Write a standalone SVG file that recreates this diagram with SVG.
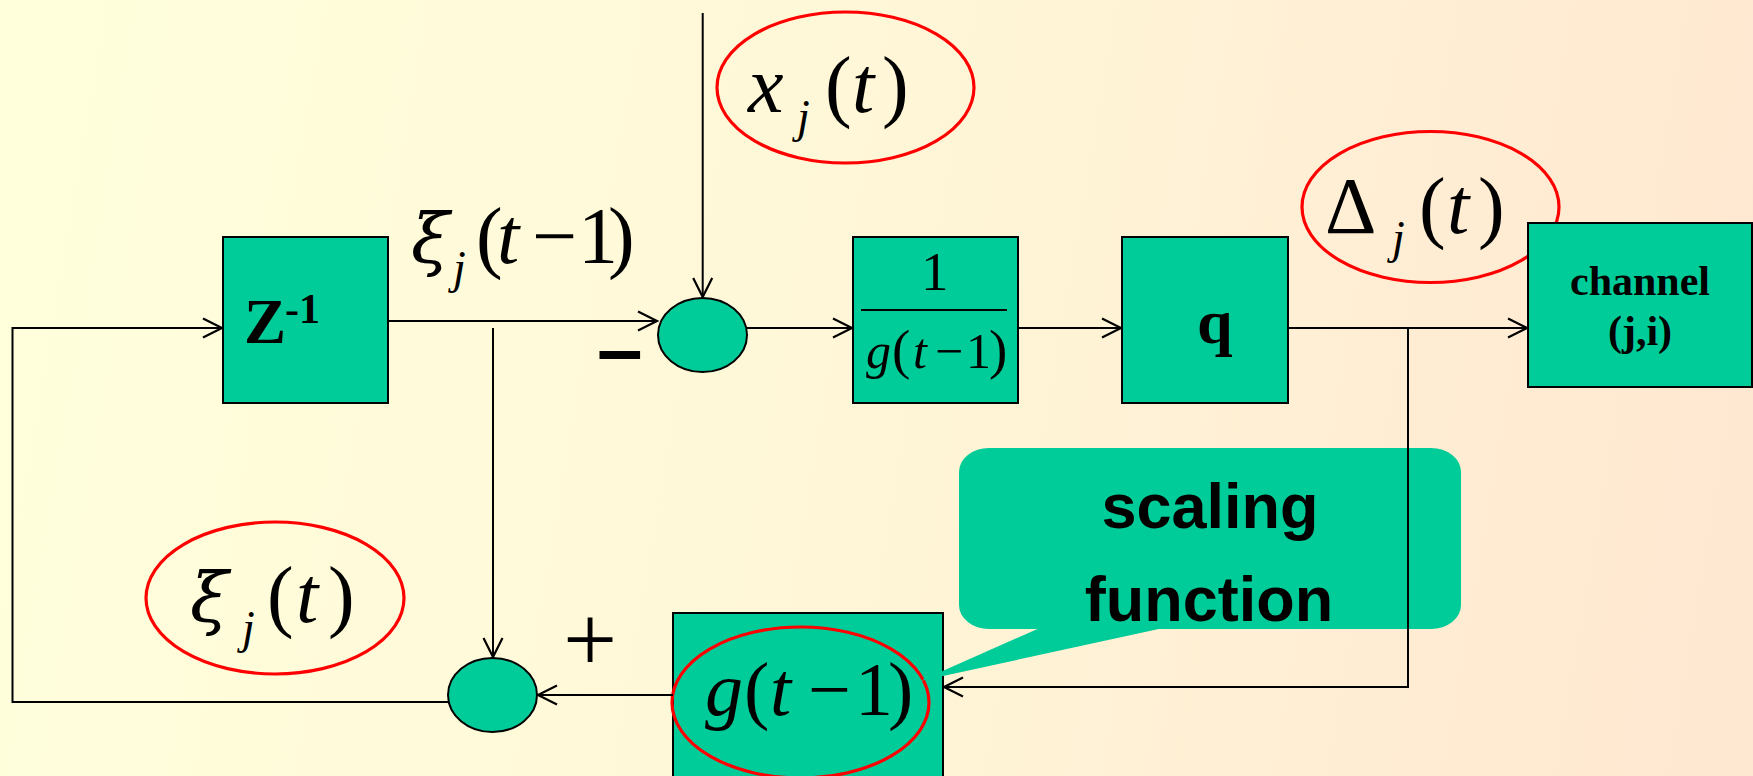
<svg xmlns="http://www.w3.org/2000/svg" width="1753" height="776" viewBox="0 0 1753 776">
<defs>
<linearGradient id="bg" x1="0" y1="0" x2="1753" y2="300" gradientUnits="userSpaceOnUse">
<stop offset="0" stop-color="#FFFFDC"/>
<stop offset="0.45" stop-color="#FFF8D8"/>
<stop offset="1" stop-color="#FFE8D1"/>
</linearGradient>
<marker id="arr" markerUnits="userSpaceOnUse" markerWidth="30" markerHeight="30" viewBox="-25 -15 30 30" refX="0" refY="0" orient="auto">
<path d="M -19 -9.5 L 0 0 L -19 9.5" fill="none" stroke="#000" stroke-width="2.2"/>
</marker>
</defs>
<style>
.box{fill:#00CC99;stroke:#000;stroke-width:2}
.sum{fill:#00CC99;stroke:#000;stroke-width:2}
.hl{fill:none;stroke:#FF0000;stroke-width:3.2}
.ln{fill:none;stroke:#000;stroke-width:2}
.m{font-family:"Liberation Serif","Times New Roman",serif;fill:#000}
.it{font-style:italic}
.xi{font-family:"DejaVu Serif",serif;font-style:italic}
.b{font-family:"Liberation Serif","Times New Roman",serif;font-weight:bold;fill:#000}
.s{font-family:"Liberation Sans",Arial,sans-serif;font-weight:bold;fill:#000}
</style>
<rect x="0" y="0" width="1753" height="776" fill="url(#bg)"/>

<g id="label-xi-t1">
<text class="m" font-size="80"><tspan class="xi" font-size="70" x="411" y="263">ξ</tspan><tspan class="it" font-size="46" x="453" y="283">j</tspan><tspan x="476" y="263">(</tspan><tspan class="it" x="497">t</tspan><tspan x="532">−</tspan><tspan x="578">1</tspan><tspan x="608">)</tspan></text>
</g>

<g id="label-xj">
<ellipse class="hl" cx="845.5" cy="87.5" rx="128.5" ry="75.5"/>
<text class="m" font-size="80"><tspan class="it" x="748" y="112">x</tspan><tspan class="it" font-size="46" x="797" y="132">j</tspan><tspan x="825" y="112">(</tspan><tspan class="it" x="852">t</tspan><tspan x="882">)</tspan></text>
</g>

<g id="label-delta">
<ellipse class="hl" cx="1430.5" cy="207" rx="128.5" ry="75.5"/>
<text class="m" font-size="80"><tspan x="1325" y="233">Δ</tspan><tspan class="it" font-size="46" x="1392" y="253">j</tspan><tspan x="1419" y="233">(</tspan><tspan class="it" x="1447">t</tspan><tspan x="1478">)</tspan></text>
</g>

<g id="label-xi-t">
<ellipse class="hl" cx="275" cy="598" rx="129" ry="76"/>
<text class="m" font-size="80"><tspan class="xi" font-size="70" x="190" y="622">ξ</tspan><tspan class="it" font-size="46" x="242" y="643">j</tspan><tspan x="267" y="622">(</tspan><tspan class="it" x="296">t</tspan><tspan x="328">)</tspan></text>
</g>

<g id="node-z">
<rect class="box" x="223" y="237" width="165" height="166"/>
<text class="b" font-size="63"><tspan x="244" y="343">Z</tspan><tspan font-size="42" x="285" y="323">-1</tspan></text>
</g>

<g id="node-sum1">
<ellipse class="sum" cx="702.5" cy="335" rx="44.5" ry="37"/>
</g>
<g id="sign-minus">
<text class="s" font-size="82" x="597" y="377">–</text>
</g>

<g id="node-inv">
<rect class="box" x="853" y="237" width="165" height="166"/>
<text class="m" font-size="55" x="921" y="290">1</text>
<line x1="861" y1="310" x2="1007" y2="310" stroke="#000" stroke-width="2"/>
<text class="m" font-size="50" y="368"><tspan class="it" x="866">g</tspan><tspan font-size="55" x="892">(</tspan><tspan class="it" x="913">t</tspan><tspan x="935">−</tspan><tspan x="966">1</tspan><tspan font-size="55" x="989">)</tspan></text>
</g>

<g id="node-q">
<rect class="box" x="1122" y="237" width="166" height="166"/>
<text class="b" font-size="64" x="1197" y="343">q</text>
</g>

<g id="node-channel">
<rect class="box" x="1528" y="223" width="224" height="164"/>
<text class="b" font-size="42" x="1640" y="295" text-anchor="middle">channel</text>
<text class="b" font-size="42" x="1640" y="345" text-anchor="middle">(j,i)</text>
</g>

<g id="node-sum2">
<ellipse class="sum" cx="492.5" cy="695" rx="44.5" ry="37"/>
</g>
<g id="sign-plus">
<text class="m" font-size="96" x="563" y="671">+</text>
</g>

<g id="node-g">
<rect class="box" x="673" y="613" width="270" height="180"/>
<ellipse class="hl" cx="800.5" cy="702.5" rx="128.5" ry="75.5"/>
<text class="m" font-size="76" y="715"><tspan class="it" x="705">g</tspan><tspan x="744">(</tspan><tspan class="it" x="770">t</tspan><tspan x="808">−</tspan><tspan x="855">1</tspan><tspan x="888">)</tspan></text>
</g>

<g id="callout">
<rect x="959" y="448" width="502" height="181" rx="30" ry="24" fill="#00CC99"/>
<polygon points="1042,627 920,681 1168,627" fill="#00CC99"/>
<text class="s" font-size="63" x="1210" y="528" text-anchor="middle">scaling</text>
<text class="s" font-size="63" x="1209" y="621" text-anchor="middle">function</text>
</g>

<g id="connectors">
<polyline class="ln" points="448,702 12.5,702 12.5,328 222,328" marker-end="url(#arr)"/>
<line class="ln" x1="388" y1="321" x2="657" y2="321" marker-end="url(#arr)"/>
<line class="ln" x1="493" y1="328" x2="493" y2="657" marker-end="url(#arr)"/>
<line class="ln" x1="702.7" y1="13" x2="702.7" y2="297" marker-end="url(#arr)"/>
<line class="ln" x1="747" y1="328" x2="852" y2="328" marker-end="url(#arr)"/>
<line class="ln" x1="1018" y1="328" x2="1121" y2="328" marker-end="url(#arr)"/>
<line class="ln" x1="1288" y1="328" x2="1527" y2="328" marker-end="url(#arr)"/>
<polyline class="ln" points="1408,329 1408,687 944,687" marker-end="url(#arr)"/>
<line class="ln" x1="673" y1="695" x2="538" y2="695" marker-end="url(#arr)"/>
</g>
</svg>
